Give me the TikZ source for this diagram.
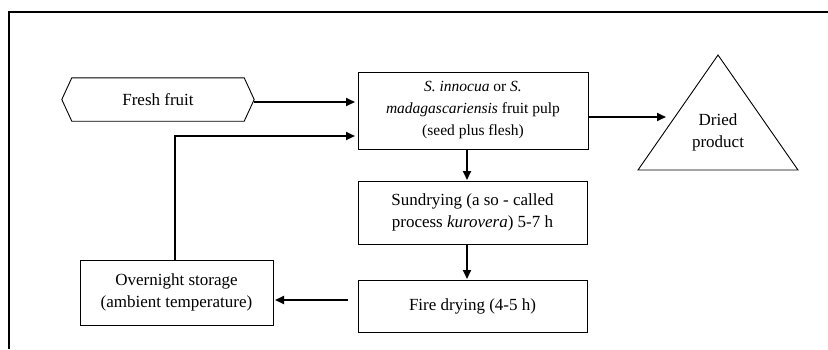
\documentclass[tikz,border=0pt]{standalone}
\usepackage{fontspec}
\setmainfont{Liberation Serif}
\usetikzlibrary{arrows.meta}
\begin{document}
\begin{tikzpicture}[x=1pt,y=-1pt,
  txt/.style={font=\fontsize{17}{22}\selectfont, align=center, inner sep=0pt},
  smalltxt/.style={font=\fontsize{15.5}{22}\selectfont},
  boxnode/.style={txt, draw, line width=0.9pt, minimum width=#1},
  arr/.style={line width=1.9pt, -{Triangle[length=9pt,width=8pt]}},
  frame/.style={line width=1.1pt}]
\useasboundingbox (0,0) rectangle (828,349);
\draw[frame] (9,349) -- (9,12) -- (828,12);

% nodes
\node[txt, minimum width=192pt, minimum height=43pt] (fresh) at (158,99.5) {Fresh fruit};
\draw[line width=0.9pt] (fresh.west) -- ([xshift=10pt]fresh.north west) -- ([xshift=-10pt]fresh.north east) -- (fresh.east) -- ([xshift=-10pt]fresh.south east) -- ([xshift=10pt]fresh.south west) -- cycle;

\node[boxnode=230pt, minimum height=77pt, smalltxt] (pulp) at (473,110.5)
  {\textit{S. innocua} or \textit{S.}\\\textit{madagascariensis} fruit pulp\\(seed plus flesh)};

\node[txt] (dried) at (718,132) {Dried\\product};
\coordinate (tapex) at (718,55);
\coordinate (tleft) at (638,170);
\coordinate (tright) at (798,170);
\draw[line width=0.9pt] (tapex) -- (tright) -- (tleft) -- cycle;

\node[boxnode=229pt, minimum height=63pt] (sund) at (472.5,212.5)
  {Sundrying (a so - called\\process \textit{kurovera}) 5-7 h};

\node[boxnode=229pt, minimum height=52pt] (fire) at (472.5,306) {Fire drying (4-5 h)};

\node[boxnode=193pt, minimum height=65pt] (stor) at (176.5,292.5)
  {Overnight storage\\(ambient temperature)};

% connectors
\coordinate (a1) at (254,102);
\coordinate (a2) at (355,102);
\draw[arr] (a1) -- (a2);

\coordinate (fbs) at (175,259.5);
\coordinate (fbc) at (175,136);
\coordinate (fbe) at (355,136);
\draw[arr] (fbs) -- (fbc) -- (fbe);

\coordinate (d1) at (588,117);
\coordinate (d2) at (666,117);
\draw[arr] (d1) -- (d2);

\coordinate (s1) at (467,149);
\coordinate (s2) at (467,180);
\draw[arr] (s1) -- (s2);

\coordinate (f1) at (467,244);
\coordinate (f2) at (467,279);
\draw[arr] (f1) -- (f2);

\coordinate (o1) at (348,300);
\coordinate (o2) at (275,300);
\draw[arr] (o1) -- (o2);
\end{tikzpicture}
\end{document}
